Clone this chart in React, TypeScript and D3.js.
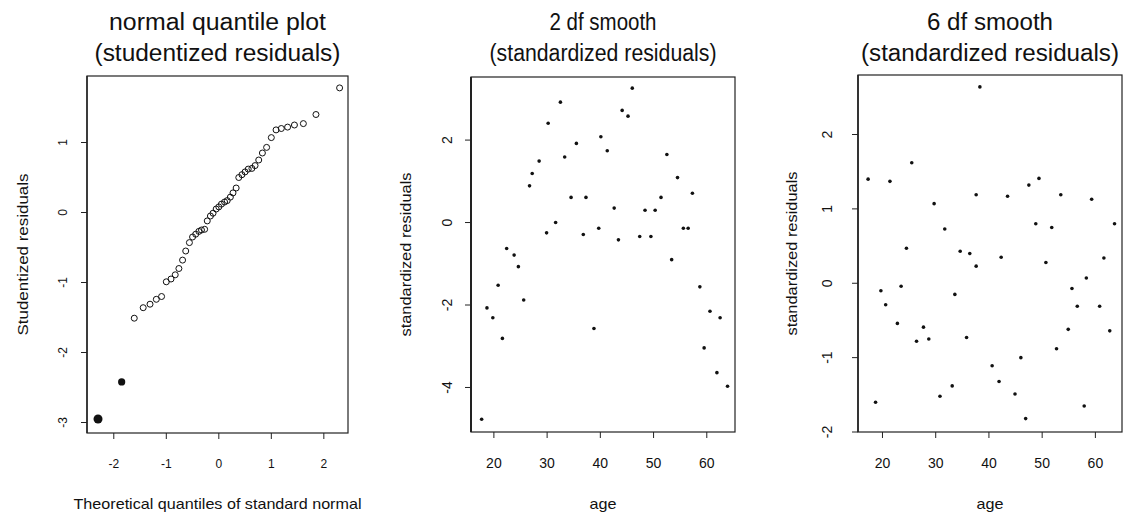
import React from "react";
import * as d3 from "d3";

// normal quantile plot (studentized residuals)
const qqTheoretical = [
  -2.3, -1.85, -1.61, -1.44, -1.31, -1.19, -1.09, -1.0, -0.91, -0.83, -0.76, -0.69,
  -0.63, -0.56, -0.5, -0.44, -0.38, -0.33, -0.27, -0.22, -0.16, -0.11, -0.05, 0,
  0.05, 0.11, 0.16, 0.22, 0.27, 0.33, 0.38, 0.44, 0.5, 0.56, 0.63, 0.69, 0.76,
  0.83, 0.91, 1.0, 1.09, 1.19, 1.31, 1.44, 1.61, 1.85, 2.3,
];
const qqResiduals = [
  -2.95, -2.42, -1.51, -1.36, -1.31, -1.24, -1.2, -0.99, -0.95, -0.89, -0.8, -0.68,
  -0.55, -0.43, -0.35, -0.31, -0.27, -0.25, -0.24, -0.12, -0.05, -0.01, 0.05, 0.08,
  0.12, 0.15, 0.17, 0.22, 0.28, 0.35, 0.5, 0.54, 0.58, 0.62, 0.63, 0.67, 0.75,
  0.85, 0.93, 1.07, 1.18, 1.2, 1.22, 1.25, 1.27, 1.4, 1.78,
];
const qqOutliers = [0, 1]; // filled points

// 2 df smooth
const age2 = [
  17.7, 18.7, 19.8, 20.8, 21.6, 22.4, 23.8, 24.6, 25.6, 26.7, 27.2, 28.5, 29.9,
  30.2, 31.6, 32.5, 33.3, 34.5, 35.5, 36.8, 37.3, 38.8, 39.7, 40.1, 41.3, 42.6,
  43.4, 44.1, 45.2, 46.0, 47.4, 48.4, 49.5, 50.3, 51.4, 52.5, 53.4, 54.5, 55.6,
  56.5, 57.3, 58.7, 59.5, 60.6, 61.9, 62.5, 63.9,
];
const resid2 = [
  -4.77, -2.07, -2.31, -1.52, -2.81, -0.63, -0.79, -1.07, -1.88, 0.89, 1.19, 1.49,
  -0.25, 2.41, 0.0, 2.92, 1.59, 0.61, 1.92, -0.29, 0.61, -2.57, -0.14, 2.08, 1.74,
  0.35, -0.42, 2.72, 2.58, 3.26, -0.34, 0.3, -0.34, 0.3, 0.61, 1.65, -0.9, 1.09,
  -0.14, -0.14, 0.71, -1.56, -3.04, -2.15, -3.64, -2.31, -3.97,
];

// 6 df smooth
const age6 = [
  17.3, 18.7, 19.7, 20.6, 21.4, 22.8, 23.5, 24.5, 25.5, 26.4, 27.7, 28.7, 29.7,
  30.8, 31.7, 33.1, 33.6, 34.6, 35.8, 36.4, 37.6, 37.6, 38.3, 40.6, 41.9, 42.3,
  43.5, 44.9, 46.0, 46.9, 47.5, 48.8, 49.4, 50.7, 51.8, 52.7, 53.5, 54.9, 55.6,
  56.6, 57.9, 58.3, 59.3, 60.8, 61.6, 62.7, 63.6,
];
const resid6 = [
  1.4, -1.6, -0.1, -0.29, 1.37, -0.54, -0.04, 0.47, 1.62, -0.78, -0.59, -0.75, 1.07,
  -1.52, 0.73, -1.38, -0.15, 0.43, -0.73, 0.4, 0.23, 1.19, 2.64, -1.11, -1.32, 0.35,
  1.17, -1.49, -1.0, -1.82, 1.32, 0.8, 1.41, 0.28, 0.75, -0.88, 1.19, -0.62, -0.07,
  -0.31, -1.65, 0.07, 1.13, -0.31, 0.34, -0.64, 0.8,
];

const qqXTicks = [-2, -1, 0, 1, 2];
const qqYTicks = [-3, -2, -1, 0, 1];
const ageTicks = [20, 30, 40, 50, 60];
const resid2Ticks = [-4, -2, 0, 2];
const resid6Ticks = [-2, -1, 0, 1, 2];

const FONT = '"Liberation Sans", Arial, Helvetica, sans-serif';
const INK = "#111";

function Panel({
  xScale, yScale, xTicks, yTicks, title, titleW, xTitle, xTitleW, yTitle, yTitleW,
  tickSize, yLabelX, yTitleX, leftStroke, children,
}: any) {
  const [x0, x1] = xScale.range();
  const [y0, y1] = yScale.range(); // y0 bottom, y1 top
  const cx = (x0 + x1) / 2;
  const cy = (y0 + y1) / 2;
  return (
    <g fontFamily={FONT} fill={INK}>
      <text x={cx} y={30} fontSize={23} textAnchor="middle" textLength={titleW[0]} lengthAdjust="spacingAndGlyphs">
        {title[0]}
      </text>
      <text x={cx} y={61} fontSize={23} textAnchor="middle" textLength={titleW[1]} lengthAdjust="spacingAndGlyphs">
        {title[1]}
      </text>
      <rect x={x0} y={y1} width={x1 - x0} height={y0 - y1} fill="none" stroke="#222" strokeWidth={1.2} />
      <line x1={x0} x2={x0} y1={y1} y2={y0} stroke="#222" strokeWidth={leftStroke} />
      {xTicks.map((t: number) => (
        <g key={"x" + t}>
          <line x1={xScale(t)} x2={xScale(t)} y1={y0} y2={y0 + 6} stroke="#222" strokeWidth={1} />
          <text x={xScale(t)} y={468} fontSize={tickSize} textAnchor="middle">
            {t}
          </text>
        </g>
      ))}
      {yTicks.map((t: number) => (
        <g key={"y" + t}>
          <line x1={x0 - 6} x2={x0} y1={yScale(t)} y2={yScale(t)} stroke="#222" strokeWidth={1} />
          <text
            x={yLabelX}
            y={yScale(t)}
            fontSize={tickSize}
            textAnchor="middle"
            transform={`rotate(-90, ${yLabelX}, ${yScale(t)})`}
          >
            {t}
          </text>
        </g>
      ))}
      <text x={cx} y={509} fontSize={15} textAnchor="middle" textLength={xTitleW} lengthAdjust="spacingAndGlyphs">
        {xTitle}
      </text>
      <text
        x={yTitleX}
        y={cy}
        fontSize={15}
        textAnchor="middle"
        textLength={yTitleW}
        lengthAdjust="spacingAndGlyphs"
        transform={`rotate(-90, ${yTitleX}, ${cy})`}
      >
        {yTitle}
      </text>
      {children}
    </g>
  );
}

export default function App() {
  const qx = d3.scaleLinear().domain([-2.51, 2.46]).range([87, 348]);
  const qy = d3.scaleLinear().domain([-3.15, 1.95]).range([433, 76]);

  const ax2 = d3.scaleLinear().domain([15.7, 65.3]).range([471, 735]);
  const ay2 = d3.scaleLinear().domain([-5.08, 3.53]).range([432, 77]);

  const ax6 = d3.scaleLinear().domain([15.4, 65.0]).range([858, 1122]);
  const ay6 = d3.scaleLinear().domain([-2.0, 2.8]).range([432, 75]);

  return (
    <div style={{ position: "absolute", left: 0, top: 0 }}>
      <svg width={1124} height={515} style={{ display: "block", background: "#fff" }}>
        <Panel
          xScale={qx} yScale={qy} xTicks={qqXTicks} yTicks={qqYTicks}
          title={["normal quantile plot", "(studentized residuals)"]} titleW={[217, 246]}
          xTitle="Theoretical quantiles of standard normal" xTitleW={288}
          yTitle="Studentized residuals" yTitleW={162}
          tickSize={12} yLabelX={67} yTitleX={28} leftStroke={1.4}
        >
          {qqTheoretical.map((q, i) =>
            qqOutliers.includes(i) ? (
              <circle key={i} cx={qx(q)} cy={qy(qqResiduals[i])} r={i === 0 ? 4.5 : 3.6} fill={INK} />
            ) : (
              <circle key={i} cx={qx(q)} cy={qy(qqResiduals[i])} r={3} fill="none" stroke={INK} strokeWidth={1} />
            )
          )}
        </Panel>
        <Panel
          xScale={ax2} yScale={ay2} xTicks={ageTicks} yTicks={resid2Ticks}
          title={["2 df smooth", "(standardized residuals)"]} titleW={[107, 227]}
          xTitle="age" xTitleW={27}
          yTitle="standardized residuals" yTitleW={164}
          tickSize={14} yLabelX={452} yTitleX={411} leftStroke={2}
        >
          {age2.map((a, i) => (
            <circle key={i} cx={ax2(a)} cy={ay2(resid2[i])} r={1.8} fill={INK} />
          ))}
        </Panel>
        <Panel
          xScale={ax6} yScale={ay6} xTicks={ageTicks} yTicks={resid6Ticks}
          title={["6 df smooth", "(standardized residuals)"]} titleW={[126, 258]}
          xTitle="age" xTitleW={27}
          yTitle="standardized residuals" yTitleW={164}
          tickSize={14} yLabelX={832} yTitleX={797} leftStroke={1.6}
        >
          {age6.map((a, i) => (
            <circle key={i} cx={ax6(a)} cy={ay6(resid6[i])} r={1.8} fill={INK} />
          ))}
        </Panel>
      </svg>
    </div>
  );
}
